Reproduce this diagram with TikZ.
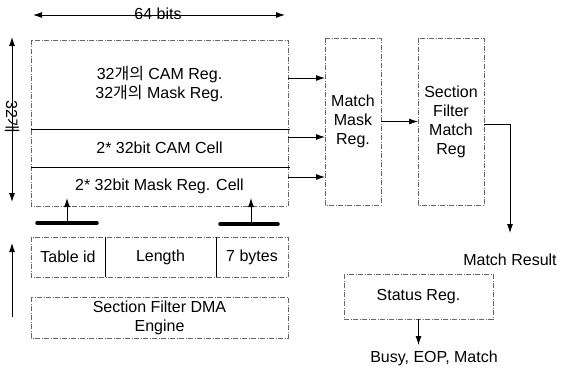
\documentclass[tikz,border=0pt]{standalone}
\usepackage{fontspec}
\setmainfont{Liberation Sans}
\newfontfamily\kr{Noto Sans CJK KR}
\usetikzlibrary{arrows.meta,calc}
\begin{document}
\begin{tikzpicture}[x=1pt,y=-1pt,
  dbox/.style={draw=black!60, line width=0.5pt, dash pattern=on 5pt off 1.5pt on 1pt off 1.5pt},
  region/.style={anchor=north west, inner sep=0pt, outer sep=0pt, align=center, font=\fontsize{16}{19}\selectfont},
  lbl/.style={inner sep=0pt, align=center, font=\fontsize{16}{19}\selectfont},
  arr/.style={-{Latex[length=9pt,width=6pt]}, line width=0.9pt},
  arrtwo/.style={{Latex[length=9pt,width=6pt]}-{Latex[length=9pt,width=6pt]}, line width=0.9pt},
  bar/.style={line width=3.5pt, line cap=round},
  sep/.style={line width=0.7pt}
]
\useasboundingbox (0,0) rectangle (561,369);

% top 64 bits arrow
\coordinate (ta1) at (33,15);
\coordinate (ta2) at (285,15);
\draw[arrtwo] (ta1) -- (ta2);
\node[lbl] (bits) at (158,14) {64 bits};

% left vertical arrows
\coordinate (la1) at (12,37);
\coordinate (la2) at (12,202);
\draw[arrtwo] (la1) -- (la2);
\node[lbl, rotate=-90] (cnt) at (12,117) {32{\kr 개}};
\coordinate (lb1) at (12,317);
\coordinate (lb2) at (12,243);
\draw[arr] (lb1) -- (lb2);

% main register block
\node[region, minimum width=257pt, minimum height=89pt] (camreg) at (31,40) {32{\kr 개의} CAM Reg.\\32{\kr 개의} Mask Reg.};
\node[region, minimum width=257pt, minimum height=38pt] (camcell) at (31,129) {2* 32bit CAM Cell};
\node[region, minimum width=257pt, minimum height=39pt] (maskcell) at (31,167) {2* 32bit Mask Reg. Cell};
\draw[dbox] (camreg.north west) rectangle (maskcell.south east);
\draw[sep] (camreg.south west) -- ([xshift=2pt]camreg.south east);
\draw[sep] (camcell.south west) -- ([xshift=2pt]camcell.south east);

% match mask reg and section filter match reg
\node[region, minimum width=56pt, minimum height=167pt] (mmr) at (325,38) {Match\\Mask\\Reg.};
\draw[dbox] (mmr.north west) rectangle (mmr.south east);
\node[region, minimum width=66pt, minimum height=167pt] (sfm) at (418,38) {Section\\Filter\\Match\\Reg};
\draw[dbox] (sfm.north west) rectangle (sfm.south east);

\draw[arr] ([yshift=6.5pt]camreg.east) -- ([yshift=6.5pt]camreg.east -| mmr.west);
\draw[arr] ([yshift=11pt]camcell.east) -- ([yshift=11pt]camcell.east -| mmr.west);
\draw[arr] ([yshift=9.5pt]maskcell.east) -- ([yshift=9.5pt]maskcell.east -| mmr.west);
\draw[arr] (mmr.east) -- (sfm.west);

% match result
\node[lbl] (res) at (510,260) {Match Result};
\coordinate (resend) at (510,233);
\draw[arr] ([yshift=-2.5pt]sfm.east) -| (resend);

% status reg
\node[region, minimum width=149pt, minimum height=45pt] (st) at (344,274) {Status Reg.};
\draw[dbox] (st.north west) rectangle (st.south east);
\node[lbl] (busy) at (434,358) {Busy, EOP, Match};
\coordinate (stend) at (418.5,345);
\draw[arr] (st.south) -- (stend);

% bars with arrows into mask cell
\coordinate (b1a) at (37,223);
\coordinate (b1b) at (97,223);
\coordinate (b2a) at (220,224);
\coordinate (b2b) at (278,224);
\coordinate (u1s) at (67,223);
\coordinate (u1e) at (67,198);
\coordinate (u2s) at (251,224);
\coordinate (u2e) at (251,198);
\draw[bar] (b1a) -- (b1b);
\draw[bar] (b2a) -- (b2b);
\draw[arr] (u1s) -- (u1e);
\draw[arr] (u2s) -- (u2e);

% table row
\node[region, minimum width=74pt, minimum height=40pt] (tid) at (31,237) {Table id};
\node[region, minimum width=111pt, minimum height=40pt] (len) at (105,237) {Length};
\node[region, minimum width=72pt, minimum height=40pt] (byt) at (216,237) {7 bytes};
\draw[dbox] (tid.north west) rectangle (byt.south east);
\draw[sep] (len.north west) -- (len.south west);
\draw[sep] (byt.north west) -- (byt.south west);

% DMA engine
\node[region, minimum width=257pt, minimum height=41pt] (dma) at (31,297) {Section Filter DMA\\Engine};
\draw[dbox] (dma.north west) rectangle (dma.south east);
\end{tikzpicture}
\end{document}
